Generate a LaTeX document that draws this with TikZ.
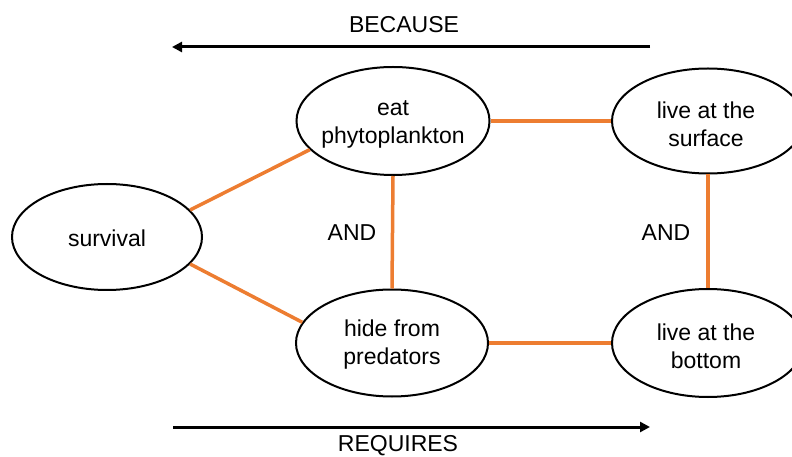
\documentclass[tikz,border=0pt]{standalone}
\usepackage{fontspec}
\setmainfont{Liberation Sans}
\usetikzlibrary{shapes.geometric,arrows.meta}
\definecolor{linkorange}{RGB}{237,125,49}
\begin{document}
\begin{tikzpicture}[x={(1bp,0bp)},y={(0bp,-1bp)},
  bubble/.style={ellipse,draw=black,line width=2bp,inner sep=0pt},
  txt/.style={align=center,font=\fontsize{23bp}{28bp}\selectfont,inner sep=0pt},
  link/.style={draw=linkorange,line width=3.5bp},
  bigarrow/.style={line width=3bp,-{Triangle[length=10bp,width=10bp]}}]
\useasboundingbox (0,0) rectangle (792,457);
\clip (0,0) rectangle (792,457);
\node[bubble,minimum width=190bp,minimum height=106bp] (surv) at (107,237) {};
\node[bubble,minimum width=193bp,minimum height=108bp] (eat) at (393,121) {};
\node[bubble,minimum width=192bp,minimum height=107bp] (hide) at (392,343) {};
\node[bubble,minimum width=192bp,minimum height=105bp] (surf) at (708,121) {};
\node[bubble,minimum width=192bp,minimum height=108bp] (bott) at (708,343) {};
\node[txt] (survt) at (107,238) {survival};
\node[txt] (eatt) at (393,124) {eat\\phytoplankton};
\node[txt] (hidet) at (392,345) {hide from\\predators};
\node[txt] (surft) at (706,124) {live at the\\surface};
\node[txt] (bottt) at (706,346) {live at the\\bottom};
\node[txt] (and1) at (352,233) {AND};
\node[txt] (and2) at (666,233) {AND};
\node[txt] (because) at (404,25) {BECAUSE};
\node[txt] (requires) at (398,446) {REQUIRES};
\coordinate (tA) at (650,47);
\coordinate (tB) at (172,47);
\coordinate (bA) at (173,427);
\coordinate (bB) at (650,427);
\draw[bigarrow] (tA) -- (tB);
\draw[bigarrow] (bA) -- (bB);
\draw[link] (surv.18) -- (eat.199);
\draw[link] (surv.-18) -- (hide.167);
\draw[link] (eat.east) -- (surf.west);
\draw[link] (hide.east) -- (bott.west);
\draw[link] (eat.south) -- (hide.north);
\draw[link] (surf.south) -- (bott.north);
\end{tikzpicture}
\end{document}
